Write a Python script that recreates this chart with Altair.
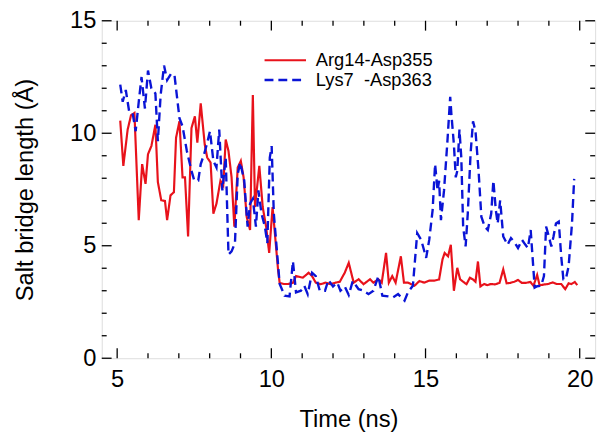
import altair as alt
import pandas as pd

# ---- data ----
red_name = "Arg14-Asp355"
blue_name = "Lys7\u00a0\u00a0-Asp363"

red_t = [5.10, 5.20, 5.34, 5.45, 5.56, 5.70, 5.81, 5.92, 6.00, 6.11, 6.24, 6.32, 6.43, 6.55, 6.62,
         6.73, 6.84, 6.91, 7.02, 7.12, 7.20, 7.30, 7.41, 7.52, 7.60, 7.71, 7.84, 7.92, 8.03, 8.12,
         8.22, 8.35, 8.44, 8.52, 8.61, 8.71, 8.80, 8.91, 9.01, 9.10, 9.20, 9.31, 9.40, 9.47, 9.61,
         9.72, 9.83, 9.93, 10.04, 10.22, 10.27, 10.40, 10.55, 10.70, 10.80, 11.02, 11.21, 11.32,
         11.44, 11.60, 11.76, 11.92, 12.08, 12.22, 12.38, 12.51, 12.67, 12.83, 12.99, 13.20, 13.31,
         13.47, 13.58, 13.72, 13.81, 13.92, 14.03, 14.20, 14.30, 14.43, 14.54, 14.64, 14.80, 14.96,
         15.12, 15.28, 15.44, 15.55, 15.62, 15.73, 15.82, 15.92, 16.03, 16.12, 16.22, 16.33, 16.44,
         16.54, 16.62, 16.70, 16.78, 16.90, 17.00, 17.12, 17.25, 17.40, 17.52, 17.63, 17.75, 17.88,
         18.00, 18.12, 18.25, 18.40, 18.50, 18.62, 18.70, 18.85, 18.98, 19.12, 19.25, 19.40, 19.53,
         19.64, 19.73, 19.84, 19.92]
red_v = [10.56, 8.55, 10.16, 10.8, 10.9, 6.14, 8.63, 7.75, 9.07, 9.43, 10.38, 7.83, 7.02, 6.99, 6.14,
         7.24, 7.38, 9.8, 10.53, 8.04, 8.04, 5.41, 10.23, 10.75, 9.58, 11.33, 9.5, 8.92, 8.7, 6.43,
         6.87, 7.89, 7.68, 9.72, 9.21, 8.04, 5.85, 8.48, 8.77, 8.04, 6.29, 5.7, 11.7, 6.72, 8.55,
         6.72, 5.85, 4.68, 6.72, 3.9, 3.35, 3.3, 3.3, 3.35, 3.65, 3.58, 3.8, 3.65,
         3.36, 3.29, 3.36, 3.29, 3.36, 3.4, 3.8, 4.24, 3.36, 3.51, 3.29, 3.51, 3.36,
         3.51, 3.36, 4.68, 3.36, 3.65, 3.36, 4.53, 3.36, 3.36, 3.29, 3.22, 3.43, 3.36,
         3.45, 3.45, 3.5, 4.39, 4.68, 4.53, 5.04, 3.0, 4.02, 3.51, 3.4, 3.29, 3.58,
         3.5, 3.4, 4.3, 3.19, 3.3, 3.25, 3.3, 3.28, 3.35, 3.95, 3.33, 3.35, 3.4,
         3.48, 3.35, 3.35, 3.39, 3.22, 3.7, 3.24, 3.28, 3.3, 3.37, 3.3, 3.3, 3.07,
         3.33, 3.3, 3.39, 3.25]

blue_t = [5.10, 5.18, 5.28, 5.39, 5.50, 5.60, 5.70, 5.79, 5.90, 6.00, 6.11, 6.24, 6.32, 6.41, 6.52,
          6.62, 6.75, 6.86, 7.02, 7.12, 7.26, 7.41, 7.50, 7.63, 7.71, 7.82, 7.92, 8.01, 8.12, 8.22,
          8.31, 8.41, 8.52, 8.61, 8.71, 8.82, 8.91, 8.99, 9.12, 9.23, 9.31, 9.40, 9.50, 9.58, 9.68,
          9.79, 9.87, 9.95, 10.01, 10.08, 10.16, 10.27, 10.43, 10.59, 10.70, 10.80, 10.96, 11.07,
          11.18, 11.32, 11.44, 11.57, 11.74, 11.85, 12.00, 12.14, 12.24, 12.38, 12.51, 12.64, 12.83,
          12.99, 13.15, 13.31, 13.47, 13.60, 13.79, 13.95, 14.11, 14.32, 14.43, 14.59, 14.73, 14.86,
          15.02, 15.12, 15.23, 15.31, 15.39, 15.44, 15.50, 15.60, 15.71, 15.80, 15.84, 15.92, 15.98,
          16.03, 16.10, 16.16, 16.22, 16.30, 16.37, 16.46, 16.54, 16.62, 16.72, 16.81, 16.92, 17.02,
          17.13, 17.20, 17.28, 17.34, 17.42, 17.52, 17.66, 17.77, 17.90, 18.00, 18.13, 18.24, 18.32,
          18.41, 18.54, 18.62, 18.75, 18.84, 18.91, 19.00, 19.08, 19.15, 19.23, 19.32, 19.40, 19.47,
          19.55, 19.64, 19.75, 19.82]
blue_v = [12.16, 11.4, 11.92, 10.96, 10.9, 10.09, 11.4, 12.5, 11.1, 12.79, 11.99, 11.77, 9.65, 11.7, 13.01,
          12.36, 12.65, 12.57, 10.67, 10.31, 9.21, 8.33, 7.9, 7.9, 8.63, 9.07, 9.58, 10.09, 8.77, 8.48,
          10.16, 7.46, 8.92, 4.61, 4.75, 5.12, 8.19, 8.7, 7.9, 5.85, 6.87, 7.09, 5.85, 7.46, 6.43,
          5.85, 5.12, 8.92, 9.43, 6.43, 5.12, 3.3, 2.78, 2.75, 4.31, 2.93, 3.0, 3.22,
          2.85, 3.8, 3.65, 3.0, 3.0, 3.48, 3.19, 3.36, 3.0, 3.19, 2.81, 3.43, 3.07,
          3.0, 2.85, 3.0, 3.65, 2.78, 2.75, 2.71, 2.85, 2.56, 2.93, 3.22, 5.56, 5.26,
          4.46, 5.26, 6.58, 8.63, 7.46, 7.89, 6.14, 7.46, 9.65, 11.62, 10.82, 9.5, 8.04,
          8.33, 10.16, 8.92, 5.85, 4.97, 6.43, 9.07, 10.53, 10.09, 8.33, 6.29, 5.85, 5.7,
          6.43, 7.89, 6.58, 5.99, 7.02, 5.41, 5.04, 5.34, 5.12, 4.9, 5.26, 5.04, 4.9,
          5.7, 3.14, 3.2, 3.22, 3.65, 5.85, 5.41, 4.97, 5.41, 5.99, 6.07, 4.53, 3.51,
          3.51, 4.09, 5.99, 7.97]

x_major = [5, 10, 15, 20]
x_minor = [6, 7, 8, 9, 11, 12, 13, 14, 16, 17, 18, 19]
y_major = [0, 5, 10, 15]
y_minor = [1, 2, 3, 4, 6, 7, 8, 9, 11, 12, 13, 14]

series_names = [red_name, blue_name]
series_colors = ["#e8121b", "#0a14d6"]

W, H = 500, 342
FONT = "Liberation Sans"

df = pd.concat([
    pd.DataFrame({"t": red_t, "v": red_v, "s": red_name}),
    pd.DataFrame({"t": blue_t, "v": blue_v, "s": blue_name}),
])

xscale = alt.Scale(domain=[4.5, 20.5], nice=False, zero=False)
yscale = alt.Scale(domain=[0, 15], nice=False, zero=False)

lines = alt.Chart(df).mark_line(clip=True).encode(
    x=alt.X("t:Q", scale=xscale, title="Time (ns)",
            axis=alt.Axis(values=x_major, ticks=False, domain=False, grid=False,
                          labelFontSize=24, titleFontSize=24, labelPadding=10,
                          titlePadding=16, labelFont=FONT, titleFont=FONT,
                          titleFontWeight="normal", labelColor="black", titleColor="black")),
    y=alt.Y("v:Q", scale=yscale, title="Salt bridge length (Å)",
            axis=alt.Axis(values=y_major, ticks=False, domain=False, grid=False,
                          labelFontSize=24, titleFontSize=24, labelPadding=6,
                          titlePadding=32, labelFont=FONT, titleFont=FONT,
                          titleFontWeight="normal", labelColor="black", titleColor="black")),
    color=alt.Color("s:N", scale=alt.Scale(domain=series_names, range=series_colors), legend=None),
    strokeDash=alt.StrokeDash("s:N", scale=alt.Scale(domain=series_names, range=[[1, 0], [9, 5]]),
                              legend=None),
    strokeWidth=alt.StrokeWidth("s:N", scale=alt.Scale(domain=series_names, range=[2.2, 2.4]),
                                legend=None),
    detail="s:N",
)

def xticks(vals, length):
    d = pd.DataFrame({"t": vals})
    bot = alt.Chart(d).mark_rule(color="black", strokeWidth=1.3).encode(
        x=alt.X("t:Q", scale=xscale), y=alt.value(H), y2=alt.value(H - length))
    top = alt.Chart(d).mark_rule(color="black", strokeWidth=1.3).encode(
        x=alt.X("t:Q", scale=xscale), y=alt.value(0), y2=alt.value(length))
    return [bot, top]

def yticks(vals, length):
    d = pd.DataFrame({"v": vals})
    left = alt.Chart(d).mark_rule(color="black", strokeWidth=1.3).encode(
        y=alt.Y("v:Q", scale=yscale), x=alt.value(0), x2=alt.value(length))
    right = alt.Chart(d).mark_rule(color="black", strokeWidth=1.3).encode(
        y=alt.Y("v:Q", scale=yscale), x=alt.value(W), x2=alt.value(W - length))
    return [left, right]

ticks = xticks(x_major, 10) + xticks(x_minor, 5) + yticks(y_major, 10) + yticks(y_minor, 5)

# legend (manual)
leg_df = pd.DataFrame({"s": series_names})
leg_red_line = alt.Chart(leg_df.iloc[[0]]).mark_rule(color=series_colors[0], strokeWidth=2.2).encode(
    x=alt.value(165), x2=alt.value(207), y=alt.value(40))
leg_blue_line = alt.Chart(leg_df.iloc[[1]]).mark_rule(color=series_colors[1], strokeWidth=2.4,
                                                      strokeDash=[9, 5]).encode(
    x=alt.value(165), x2=alt.value(207), y=alt.value(60))
leg_red_text = alt.Chart(leg_df.iloc[[0]]).mark_text(align="left", baseline="middle", fontSize=18.5,
                                                     font=FONT, color="black").encode(
    x=alt.value(217), y=alt.value(40), text="s:N")
leg_blue_text = alt.Chart(leg_df.iloc[[1]]).mark_text(align="left", baseline="middle", fontSize=18.5,
                                                      font=FONT, color="black").encode(
    x=alt.value(217), y=alt.value(60), text="s:N")

chart = alt.layer(lines, *ticks, leg_red_line, leg_blue_line, leg_red_text, leg_blue_text).properties(
    width=W, height=H,
    autosize=alt.AutoSizeParams(type="none"),
    padding={"left": 95, "top": 10, "right": 10, "bottom": 85},
).configure_view(stroke="black", strokeWidth=1.5).configure(background="white")

chart.save("out.html", embed_options={"renderer": "svg", "actions": False})
